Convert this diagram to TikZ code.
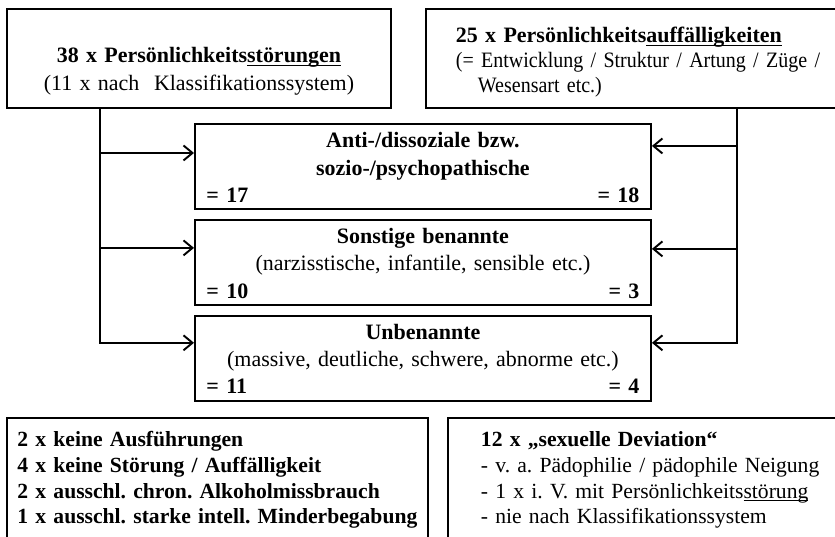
\documentclass[tikz,border=0pt]{standalone}
\usepackage{fontspec}
\setmainfont{Liberation Serif}
\usepackage{tikz}
\usetikzlibrary{positioning,calc,arrows.meta}

% Unterstreichung dicht unter der Grundlinie
\newcommand{\unterstr}[1]{\setbox0\hbox{#1}\rlap{\rule[-1.8pt]{\wd0}{0.8pt}}\box0}

\begin{document}
\frenchspacing
\begin{tikzpicture}[
    line width=1.1pt,
    >={Straight Barb[length=1.8mm,width=3mm]},
    node distance=0.18cm, % Abstand zwischen den mittleren Kaesten
    every node/.style={
        draw,
        inner ysep=0pt,
        anchor=north west,
        font=\fontsize{12.5}{15}\selectfont
    },
    mitte/.style={
        text width=8.66cm, inner xsep=0.23cm, align=center,
        text height=0.48cm, text depth=1.22cm,
        font=\fontsize{12.5}{15.4}\selectfont\bfseries
    },
    unten/.style={
        align=left, text height=0.58cm, text depth=2.2cm,
        font=\fontsize{12.3}{14.6}\selectfont
    }
]
\path[use as bounding box] (0,0) rectangle (16.7,-10.74);
\clip (0,0) rectangle (16.7,-10.74);

% --- obere Kaesten ---
\node[text width=7.28cm, inner xsep=0.2cm, align=center,
      text height=1.08cm, text depth=0.90cm,
      font=\fontsize{12.5}{15.9}\selectfont] (stoer) at (0.12,-0.16)
    {\textbf{38 x Persönlichkeits\unterstr{störungen}}\\
     (11 x nach\ \ Klassifikationssystem)};
\node[text width=8cm, inner xsep=0.6cm, align=left,
      text height=0.68cm, text depth=1.30cm,
      font=\fontsize{12.5}{14.2}\selectfont] (auff) at (8.5,-0.16)
    {\textbf{25 x Persönlichkeits\unterstr{auffälligkeiten}}\\
     {\addfontfeature{FakeStretch=0.91}(= Entwicklung / Struktur / Artung / Züge /}\\
     \hspace*{0.44cm}{\addfontfeature{FakeStretch=0.91}Wesensart etc.)}};

% --- mittlere Kaesten, untereinander ---
\node[mitte] (anti) at (3.88,-2.46)
    {Anti-/dissoziale bzw.\\ sozio-/psychopathische\\ = 17\hfill = 18};
\node[mitte, below=of anti] (sonst)
    {Sonstige benannte\\ {\mdseries (narzisstische, infantile, sensible etc.)}\\ = 10\hfill = 3};
\node[mitte, below=of sonst] (unben)
    {Unbenannte\\ {\mdseries (massive, deutliche, schwere, abnorme etc.)}\\ = 11\hfill = 4};

% --- untere Kaesten ---
\node[unten, text width=8cm, inner xsep=0.21cm,
      font=\fontsize{12.3}{14.6}\selectfont\bfseries] (rest) at (0.12,-8.34)
    {2 x keine Ausführungen\\
     4 x keine Störung / Auffälligkeit\\
     2 x ausschl. chron. Alkoholmissbrauch\\
     1 x ausschl. starke intell. Minderbegabung};
\node[unten, text width=7.5cm, inner xsep=0.66cm] (sexuell) at (8.94,-8.34)
    {\textbf{12 x „sexuelle Deviation“}\\
     - v. a. Pädophilie / pädophile Neigung\\
     - 1 x i. V. mit Persönlichkeits\unterstr{störung}\\
     - nie nach Klassifikationssystem};

% Verbindungen links
\coordinate (L) at ($(stoer.south west)+(1.88,0)$);
\coordinate (antiL) at ($(anti.west)+(0,0.27)$);
\coordinate (sonstL) at ($(sonst.west)+(0,0.29)$);
\coordinate (unbenL) at ($(unben.west)+(0,0.31)$);
\draw[->] (L) |- (unbenL);
\draw[->] (L |- antiL) -- (antiL);
\draw[->] (L |- sonstL) -- (sonstL);

% Verbindungen rechts
\coordinate (R) at ($(auff.south west)+(6.24,0)$);
\coordinate (antiR) at ($(anti.east)+(0,0.41)$);
\coordinate (sonstR) at ($(sonst.east)+(0,0.27)$);
\coordinate (unbenR) at ($(unben.east)+(0,0.31)$);
\draw[->] (R) |- (unbenR);
\draw[->] (R |- antiR) -- (antiR);
\draw[->] (R |- sonstR) -- (sonstR);

\end{tikzpicture}
\end{document}
